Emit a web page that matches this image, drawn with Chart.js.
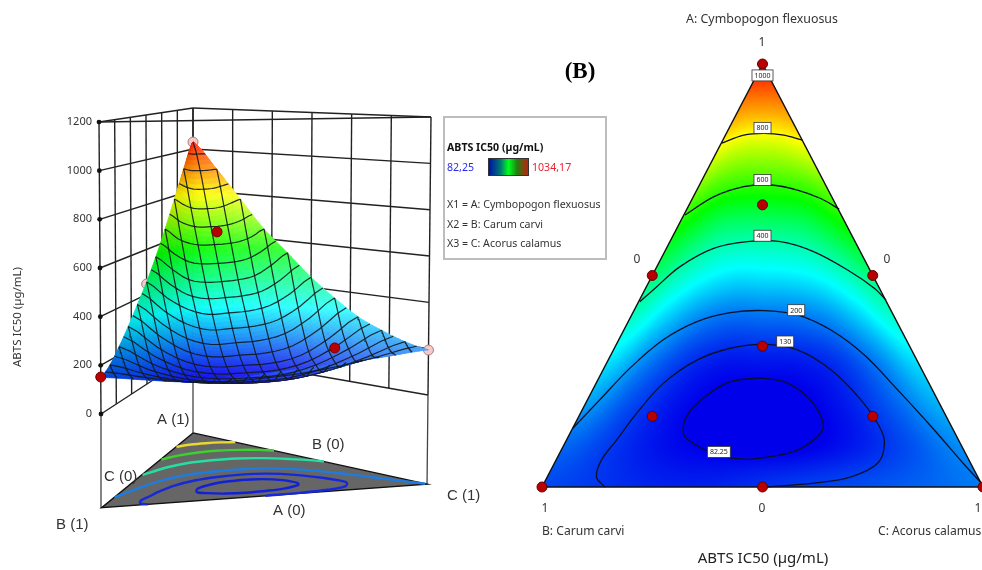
<!DOCTYPE html>
<html>
<head>
<meta charset="utf-8">
<title>ABTS IC50</title>
<script src="https://cdn.jsdelivr.net/npm/chart.js@4"></script>
<style>
  html, body { margin: 0; padding: 0; background: #fff; }
  #page { position: relative; width: 982px; height: 570px; overflow: hidden; font-family: "Noto Sans", sans-serif; color: #333; }
  canvas { position: absolute; top: 0; filter: blur(0.45px); }
  #surface3d { left: 0; }
  #ternary { left: 520px; }
  #legendBox { position: absolute; left: 443px; top: 116px; width: 160px; height: 140px; border: 2px solid #bdbdbd; }
  #legendBox div { position: absolute; left: 2px; font-size: 10.6px; line-height: 14px; white-space: nowrap; }
  #legendBar { left: 43px !important; top: 40px; width: 39px; height: 16px; border: 1px solid #333; background: linear-gradient(90deg, #0010a8, #007a70 30%, #00ff20 50%, #208010 72%, #c02010); }
</style>
</head>
<body>
<div id="page">
  <canvas id="surface3d" width="500" height="570"></canvas>
  <canvas id="ternary" width="500" height="570"></canvas>
  <div id="legendBox">
    <div style="top:22px;font-weight:bold;color:#111">ABTS IC50 (µg/mL)</div>
    <div style="top:42px;color:#2a2aee">82,25</div>
    <div id="legendBar"></div>
    <div style="top:42px;left:87px;color:#ee2233">1034,17</div>
    <div style="top:79px">X1 = A: Cymbopogon flexuosus</div>
    <div style="top:99px">X2 = B: Carum carvi</div>
    <div style="top:118px">X3 = C: Acorus calamus</div>
  </div>
</div>
<script>
// response: rows are A, columns go from the B edge to the C edge
const aLevels = [0, 0.1, 0.2, 0.3, 0.4, 0.5, 0.6, 0.7, 0.8, 0.9, 1];
const vLevels = [0, 0.125, 0.25, 0.375, 0.5, 0.625, 0.75, 0.875, 1];
const abtsRows = [
  [150, 132, 114, 112, 128, 143, 158, 176, 195],
  [180, 132, 95, 78, 72, 80, 110, 158, 215],
  [235, 155, 100, 76, 72, 78, 112, 175, 250],
  [300, 205, 135, 105, 105, 108, 135, 205, 295],
  [375, 285, 215, 183, 185, 190, 215, 280, 365],
  [455, 380, 325, 298, 300, 305, 325, 375, 445],
  [550, 490, 440, 425, 425, 430, 445, 490, 545],
  [660, 615, 590, 580, 580, 582, 590, 610, 645],
  [785, 760, 742, 735, 735, 737, 745, 760, 775],
  [915, 910, 906, 905, 905, 905, 906, 908, 910],
  [1034, 1034, 1034, 1034, 1034, 1034, 1034, 1034, 1034]
];

// contours, x = C - B, y = A
const c82 = [[-0.009,0.258],[0.097,0.249],[0.204,0.213],[0.272,0.158],[0.264,0.127],[0.158,0.087],[0.036,0.072],[-0.085,0.066],[-0.206,0.076],[-0.313,0.103],[-0.359,0.127],[-0.336,0.174],[-0.252,0.217],[-0.146,0.249],[-0.009,0.258]];
const c130 = [[-0.715,0],[-0.753,0.024],[-0.73,0.064],[-0.662,0.111],[-0.571,0.174],[-0.45,0.245],[-0.297,0.3],[-0.146,0.328],[0.006,0.337],[0.158,0.324],[0.31,0.277],[0.446,0.206],[0.53,0.143],[0.553,0.103],[0.522,0.056],[0.401,0.024],[0.234,0.009],[0.006,0]];
const c200 = [[-0.86,0.139],[-0.738,0.206],[-0.601,0.281],[-0.45,0.348],[-0.297,0.391],[-0.146,0.412],[0.006,0.417],[0.158,0.407],[0.31,0.371],[0.462,0.312],[0.614,0.229],[0.765,0.143],[0.917,0.052],[0.993,0.009]];
const c400 = [[-0.556,0.438],[-0.487,0.47],[-0.374,0.521],[-0.222,0.564],[-0.07,0.58],[0.082,0.58],[0.234,0.556],[0.386,0.513],[0.507,0.47],[0.56,0.442]];
const c600 = [[-0.351,0.643],[-0.222,0.686],[-0.085,0.71],[0.036,0.714],[0.158,0.702],[0.264,0.682],[0.348,0.657]];
const c800 = [[-0.184,0.813],[-0.085,0.832],[0.006,0.836],[0.097,0.832],[0.181,0.82]];

const contourTexts = ["1000", "800", "600", "400", "200", "130", "82.25"];
const contourTextX = [0, 0, 0, 0, 0.153, 0.103, -0.198];
const contourTextA = [0.973, 0.849, 0.726, 0.594, 0.418, 0.344, 0.083];

// design points on the ternary plot
const designX = [0, -0.5, 0.5, 0, 0, -0.5, 0.5, -1, 0, 1];
const designA = [1, 0.5, 0.5, 0.667, 0.333, 0.167, 0.167, 0, 0, 0];

// design points seen on the 3D surface: [A, B, C, response]
const abovePoints = [[0.667, 0.167, 0.167, 643], [0.167, 0.167, 0.667, 189], [0, 1, 0, 152]];
const belowPoints = [[1, 0, 0, 1034], [0.5, 0.5, 0, 446], [0, 0, 1, 194]];

const zTicks = [0, 200, 400, 600, 800, 1000, 1200];
const wallSteps = [0, 1/6, 2/6, 3/6, 4/6, 5/6, 1];
const meshA = [0.05, 0.1, 0.15, 0.2, 0.25, 0.3, 0.35, 0.4, 0.45, 0.5, 0.55, 0.6, 0.65, 0.7, 0.75, 0.8, 0.85, 0.9, 0.95];
const meshX = [-0.9, -0.8, -0.7, -0.6, -0.5, -0.4, -0.3, -0.2, -0.1, 0, 0.1, 0.2, 0.3, 0.4, 0.5, 0.6, 0.7, 0.8, 0.9];

// view of the 3D box: where each corner falls on the chart scales
const viewX = { a: 93, b: 1, c: 328 };
const viewTilt = { a: 0, b: -0.00167, c: 0.0025 };
const viewY = { a: 246.6, b: 0, c: 78.1 };
const viewGain = { a: 0.8425, b: 1, c: 0.952 };
const floorZ = -385;

function project(a, b, c, z) {
  return {
    x: a * (viewX.a + z * viewTilt.a) + b * (viewX.b + z * viewTilt.b) + c * (viewX.c + z * viewTilt.c),
    y: a * (viewY.a + z * viewGain.a) + b * (viewY.b + z * viewGain.b) + c * (viewY.c + z * viewGain.c)
  };
}

function cubic(p0, p1, p2, p3, t) {
  return p1 + 0.5 * t * (p2 - p0 + t * (2 * p0 - 5 * p1 + 4 * p2 - p3 + t * (3 * (p1 - p2) + p3 - p0)));
}

// smooth lookup in abtsRows, only used for shading between the read values
function abtsAt(a, v) {
  const fa = Math.min(a, 0.9999) * (aLevels.length - 1);
  const fv = Math.min(Math.max(v, 0), 0.9999) * (vLevels.length - 1);
  const ia = Math.floor(fa), iv = Math.floor(fv);
  const rowAt = i => {
    const r = abtsRows[Math.max(0, Math.min(aLevels.length - 1, i))];
    const g = j => r[Math.max(0, Math.min(vLevels.length - 1, j))];
    return cubic(g(iv - 1), g(iv), g(iv + 1), g(iv + 2), fv - iv);
  };
  return cubic(rowAt(ia - 1), rowAt(ia), rowAt(ia + 1), rowAt(ia + 2), fa - ia);
}

const colorStops = [82.25, 320, 558, 796, 1034.17];
const colorRgb = [[0, 0, 235], [0, 255, 255], [0, 255, 0], [255, 255, 0], [255, 20, 0]];

function rgbFor(val) {
  let i = 0;
  while (i < colorStops.length - 2 && val > colorStops[i + 1]) i++;
  let t = (val - colorStops[i]) / (colorStops[i + 1] - colorStops[i]);
  t = Math.max(0, Math.min(1, t));
  return colorRgb[i].map((c, k) => c + (colorRgb[i + 1][k] - c) * t);
}

function css(rgb) {
  return "rgb(" + rgb.map(Math.round).join(",") + ")";
}

function toAbc(pt) {
  return [pt[1], (1 - pt[1] - pt[0]) / 2, (1 - pt[1] + pt[0]) / 2];
}

function surfacePoint(xt, a) {
  const half = 1 - a;
  const v = half > 0 ? (xt / half + 1) / 2 : 0.5;
  return project(a, half * (1 - v), half * v, abtsAt(a, v));
}

function lineSet(label, data, color, width, extra) {
  return Object.assign({
    label: label, data: data, showLine: true, pointRadius: 0, borderColor: color,
    borderWidth: width, tension: 0, clip: false
  }, extra || {});
}

// ---------- left panel ----------
const leftSets = [];

leftSets.push({
  label: "Design points above", clip: false, pointRadius: 5, pointBackgroundColor: "#b80000",
  pointBorderColor: "#700000", pointBorderWidth: 1,
  data: abovePoints.map(p => project(p[0], p[1], p[2], p[3]))
});

const meshColor = "rgba(15,25,30,0.9)";
meshA.forEach(a => {
  const row = [];
  for (let j = 0; j <= 24; j++) row.push(surfacePoint((1 - a) * (2 * j / 24 - 1), a));
  leftSets.push(lineSet("Mesh A " + a, row, meshColor, 1.2));
});
meshX.forEach(xt => {
  const col = [];
  for (let j = 0; j <= 24; j++) col.push(surfacePoint(xt, (1 - Math.abs(xt)) * j / 24));
  leftSets.push(lineSet("Mesh X " + xt, col, meshColor, 1.2));
});

leftSets.push({ label: "Surface", data: [], clip: false, pointRadius: 0 });

leftSets.push({
  label: "Design points below", clip: false, pointRadius: 5, pointBackgroundColor: "#f8c8c8",
  pointBorderColor: "#a08080", pointBorderWidth: 1,
  data: belowPoints.map(p => project(p[0], p[1], p[2], p[3]))
});

leftSets.push({
  label: "Z ticks", clip: false, pointRadius: 2.4, pointBackgroundColor: "#111", pointBorderWidth: 0,
  data: zTicks.map(z => project(0, 1, 0, z))
});

const floorColors = ["#1220d8", "#1628dc", "#1c7ce0", "#24e0a0", "#3cd030", "#e8d830"];
[c82, c130, c200, c400, c600, c800].forEach((c, i) => {
  leftSets.push(lineSet("Floor contour " + i, c.map(pt => {
    const w = toAbc(pt);
    return project(w[0], w[1], w[2], floorZ);
  }), floorColors[i], 2.4, { tension: 0.35 }));
});

const fa = project(1, 0, 0, floorZ), fb = project(0, 1, 0, floorZ), fc = project(0, 0, 1, floorZ);
leftSets.push(lineSet("Floor", [fa, fc, fb, fa], "#111", 1.4, { fill: "shape", backgroundColor: "#666666" }));

const wallColor = "#222";
zTicks.forEach(z => {
  leftSets.push(lineSet("Wall AB " + z, [project(0, 1, 0, z), project(1, 0, 0, z)], wallColor, 1.4));
  leftSets.push(lineSet("Wall AC " + z, [project(1, 0, 0, z), project(0, 0, 1, z)], wallColor, 1.4));
});
wallSteps.forEach(s => {
  leftSets.push(lineSet("Up AB " + s, [project(s, 1 - s, 0, 0), project(s, 1 - s, 0, 1200)], wallColor, 1.4));
  leftSets.push(lineSet("Up AC " + s, [project(1 - s, 0, s, 0), project(1 - s, 0, s, 1200)], wallColor, 1.4));
});
leftSets.push(lineSet("Top front", [project(0, 1, 0, 1200), project(0, 0, 1, 1200)], wallColor, 1.4));
[[1, 0, 0], [0, 1, 0], [0, 0, 1]].forEach((w, i) => {
  leftSets.push(lineSet("Corner " + i, [project(w[0], w[1], w[2], floorZ), project(w[0], w[1], w[2], 0)], "#444", 1.3));
});

const surfacePlugin = {
  id: "surfacePaint",
  beforeDatasetDraw(chart, args) {
    if (chart.data.datasets[args.index].label !== "Surface") return;
    const ctx = chart.ctx, sx = chart.scales.x, sy = chart.scales.y;
    const n = 72;
    const at = (i, j) => {
      const a = 1 - i / n, v = j / n;
      const p = project(a, (1 - a) * (1 - v), (1 - a) * v, abtsAt(a, v));
      return [sx.getPixelForValue(p.x), sy.getPixelForValue(p.y)];
    };
    ctx.save();
    ctx.lineWidth = 0.8;
    for (let i = 0; i < n; i++) {
      for (let j = 0; j < n; j++) {
        const a = 1 - (i + 0.5) / n, v = (j + 0.5) / n;
        const rgb = rgbFor(abtsAt(a, v));
        const wash = 0.3 * v * (1 - a * 0.4);
        const dim = 0.9 + 0.1 * Math.min(1, v * 2.4);
        const col = css(rgb.map(c => c * dim + (255 - c * dim) * wash));
        const q = [at(i, j), at(i, j + 1), at(i + 1, j + 1), at(i + 1, j)];
        ctx.beginPath();
        ctx.moveTo(q[0][0], q[0][1]);
        for (let k = 1; k < 4; k++) ctx.lineTo(q[k][0], q[k][1]);
        ctx.closePath();
        ctx.fillStyle = col;
        ctx.strokeStyle = col;
        ctx.fill();
        ctx.stroke();
      }
    }
    ctx.restore();
  }
};

const leftTextPlugin = {
  id: "leftText",
  afterDraw(chart) {
    const ctx = chart.ctx;
    ctx.save();
    ctx.fillStyle = "#333";
    ctx.textAlign = "left";
    ctx.textBaseline = "middle";
    ctx.font = "15px 'Liberation Sans'";
    ctx.fillText("A (1)", 157, 420);
    ctx.fillText("B (0)", 312, 445);
    ctx.fillText("C (0)", 104, 477);
    ctx.fillText("A (0)", 273, 511);
    ctx.fillText("B (1)", 56, 525);
    ctx.fillText("C (1)", 447, 496);
    ctx.translate(18, 317);
    ctx.rotate(-Math.PI / 2);
    ctx.textAlign = "center";
    ctx.font = "11.5px 'Noto Sans'";
    ctx.fillText("ABTS IC50 (µg/mL)", 0, 0);
    ctx.restore();
  }
};

new Chart(document.getElementById("surface3d").getContext("2d"), {
  type: "scatter",
  data: { datasets: leftSets },
  plugins: [surfacePlugin, leftTextPlugin],
  options: {
    responsive: false,
    animation: false,
    layout: { padding: { top: 24.7, bottom: 39.2, left: 0, right: 0 } },
    plugins: { legend: { display: false }, tooltip: { enabled: false } },
    scales: {
      // chart area comes out 394 wide, so one x unit is one pixel
      x: { type: "linear", min: 0, max: 394, display: false },
      y: {
        type: "linear", min: -480, max: 1600,
        grid: { display: false }, border: { display: false },
        ticks: { color: "#333", padding: 0, font: { family: "'Noto Sans'", size: 11 }, callback: v => String(v) },
        afterBuildTicks(scale) { scale.ticks = zTicks.map(v => ({ value: v })); },
        afterFit(scale) { scale.width = 100; }
      }
    }
  }
});

// ---------- right panel ----------
const rightSets = [];
rightSets.push({
  label: "Design points", clip: false, pointRadius: 5, pointBackgroundColor: "#b80000",
  pointBorderColor: "#600000", pointBorderWidth: 1,
  data: designX.map((x, i) => ({ x: x, y: designA[i] }))
});
[c82, c130, c200, c400, c600, c800].forEach((c, i) => {
  rightSets.push(lineSet("Contour " + i, c.map(p => ({ x: p[0], y: p[1] })), "#0a0f2a", 1.3, { tension: 0.35 }));
});
rightSets.push(lineSet("Frame", [{ x: -1, y: 0 }, { x: 0, y: 1 }, { x: 1, y: 0 }, { x: -1, y: 0 }], "#111", 1.5));

const fieldPlugin = {
  id: "fieldPaint",
  beforeDatasetsDraw(chart) {
    const ctx = chart.ctx, sx = chart.scales.x, sy = chart.scales.y;
    const a = chart.chartArea;
    ctx.save();
    ctx.beginPath();
    ctx.moveTo(sx.getPixelForValue(-1), sy.getPixelForValue(0));
    ctx.lineTo(sx.getPixelForValue(0), sy.getPixelForValue(1));
    ctx.lineTo(sx.getPixelForValue(1), sy.getPixelForValue(0));
    ctx.closePath();
    ctx.clip();
    for (let py = Math.floor(a.top); py < a.bottom; py++) {
      const av = sy.getValueForPixel(py + 0.5);
      const half = 1 - av;
      for (let px = Math.floor(a.left); px < a.right; px++) {
        const xv = sx.getValueForPixel(px + 0.5);
        if (Math.abs(xv) > half + 0.02) continue;
        const v = half > 0 ? (xv / half + 1) / 2 : 0.5;
        ctx.fillStyle = css(rgbFor(abtsAt(Math.max(av, 0), v)));
        ctx.fillRect(px, py, 1, 1);
      }
    }
    ctx.restore();
  }
};

const rightTextPlugin = {
  id: "rightText",
  afterDatasetsDraw(chart) {
    const ctx = chart.ctx, sx = chart.scales.x, sy = chart.scales.y;
    ctx.save();
    ctx.textAlign = "center";
    ctx.textBaseline = "middle";
    ctx.font = "7px 'Noto Sans'";
    contourTexts.forEach((t, i) => {
      const px = sx.getPixelForValue(contourTextX[i]), py = sy.getPixelForValue(contourTextA[i]);
      const w = ctx.measureText(t).width + 5;
      ctx.fillStyle = "#fff";
      ctx.fillRect(px - w / 2, py - 5.5, w, 11);
      ctx.strokeStyle = "#333";
      ctx.lineWidth = 0.8;
      ctx.strokeRect(px - w / 2, py - 5.5, w, 11);
      ctx.fillStyle = "#222";
      ctx.fillText(t, px, py + 0.5);
    });
    // canvas starts at x = 520
    ctx.fillStyle = "#333";
    ctx.font = "12.4px 'Noto Sans'";
    ctx.fillText("A: Cymbopogon flexuosus", 242, 19);
    ctx.font = "12px 'Noto Sans'";
    ctx.fillText("1", 242, 43);
    ctx.fillText("0", 117, 260);
    ctx.fillText("0", 367, 260);
    ctx.fillText("1", 25, 509);
    ctx.fillText("0", 242, 509);
    ctx.fillText("1", 458, 509);
    ctx.font = "12.1px 'Noto Sans'";
    ctx.textAlign = "left";
    ctx.fillText("B: Carum carvi", 22, 532);
    ctx.fillText("C: Acorus calamus", 358, 532);
    ctx.textAlign = "center";
    ctx.font = "15px 'Noto Sans'";
    ctx.fillStyle = "#222";
    ctx.fillText("ABTS IC50 (µg/mL)", 243, 559);
    ctx.font = "bold 23px 'Liberation Serif'";
    ctx.fillStyle = "#000";
    ctx.fillText("(B)", 60, 72);
    ctx.restore();
  }
};

new Chart(document.getElementById("ternary").getContext("2d"), {
  type: "scatter",
  data: { datasets: rightSets },
  plugins: [fieldPlugin, rightTextPlugin],
  options: {
    responsive: false,
    animation: false,
    layout: { padding: { top: 64, bottom: 83, left: 22, right: 37 } },
    plugins: { legend: { display: false }, tooltip: { enabled: false } },
    scales: {
      x: { type: "linear", min: -1, max: 1, display: false },
      y: { type: "linear", min: 0, max: 1, display: false }
    }
  }
});
</script>
</body>
</html>
